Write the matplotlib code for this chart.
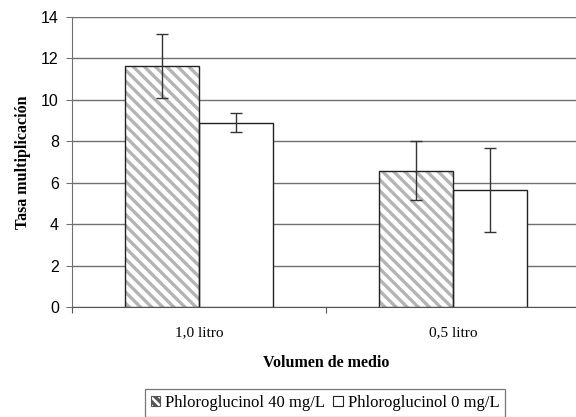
import matplotlib
matplotlib.use("Agg")
import matplotlib.pyplot as plt
import numpy as np
from matplotlib.patches import Patch

categories = ["1,0 litro", "0,5 litro"]
series_names = ["Phloroglucinol 40 mg/L", "Phloroglucinol 0 mg/L"]
vals_40 = [11.63, 6.58]
err_40 = [1.55, 1.43]
vals_0 = [8.9, 5.65]
err_0 = [0.45, 2.03]

plt.rcParams['hatch.linewidth'] = 2.4
HATCH_C = '#b4b4b4'

fig = plt.figure(figsize=(5.76, 4.17), dpi=100)
W, H = 576, 417
ax = fig.add_axes([72/W, 1-307/H, 508/W, (307-17)/H])

x = np.arange(len(categories))
bw = 0.29
ekw = dict(ecolor='#333333', elinewidth=1.0, capsize=4, capthick=1.0, zorder=5)
# hatch layer
ax.bar(x - bw/2, vals_40, bw, color='white', edgecolor=HATCH_C,
       hatch='\\\\\\', linewidth=0, zorder=3)
# outline layer + error bars
ax.bar(x - bw/2, vals_40, bw, yerr=err_40, fill=False, edgecolor='#222222',
       linewidth=1.0, error_kw=ekw, zorder=4)
ax.bar(x + bw/2, vals_0, bw, yerr=err_0, color='white', edgecolor='#222222',
       linewidth=1.0, error_kw=ekw, zorder=3)

ax.set_xlim(-0.5, 1.5)
ax.set_ylim(0, 14)
ax.set_yticks(range(0, 15, 2))
ax.yaxis.grid(True, color='#707070', linewidth=1.0, zorder=0)
ax.set_axisbelow(True)
for s in ['top', 'right']:
    ax.spines[s].set_visible(False)
ax.spines['left'].set_color('#707070')
ax.spines['bottom'].set_color('#555555')
ax.tick_params(axis='y', length=4.5, color='#707070', labelsize=11.5, pad=5)
for lab in ax.get_yticklabels():
    lab.set_fontfamily('Liberation Sans')

ax.set_xticks([-0.5, 0.5, 1.5])
ax.set_xticklabels([])
ax.set_xticks(x, minor=True)
ax.set_xticklabels(categories, minor=True, fontfamily='Liberation Serif', fontsize=11)
ax.tick_params(axis='x', which='major', length=4, color='#555555')
ax.tick_params(axis='x', which='minor', length=0, pad=14)

ax.set_ylabel("Tasa multiplicación", fontfamily='Liberation Serif', fontweight='bold', fontsize=11.5, labelpad=7)
ax.set_xlabel("Volumen de medio", fontfamily='Liberation Serif', fontweight='bold', fontsize=11.5, labelpad=11)

handles = [Patch(facecolor='white', edgecolor='#555555', hatch='\\\\\\\\', linewidth=0.8),
           Patch(facecolor='white', edgecolor='#222222', linewidth=0.8)]
leg = fig.legend(handles, series_names, loc='center', bbox_to_anchor=(325/W, 1-403/H),
                 ncol=2, frameon=True, fancybox=False, edgecolor='#555555',
                 prop={'family': 'Liberation Serif', 'size': 12},
                 handlelength=0.55, handleheight=0.55, handletextpad=0.3, columnspacing=0.5,
                 borderpad=0.35, borderaxespad=0)
leg.get_frame().set_linewidth(0.9)

fig.savefig("out.png", dpi=100)
